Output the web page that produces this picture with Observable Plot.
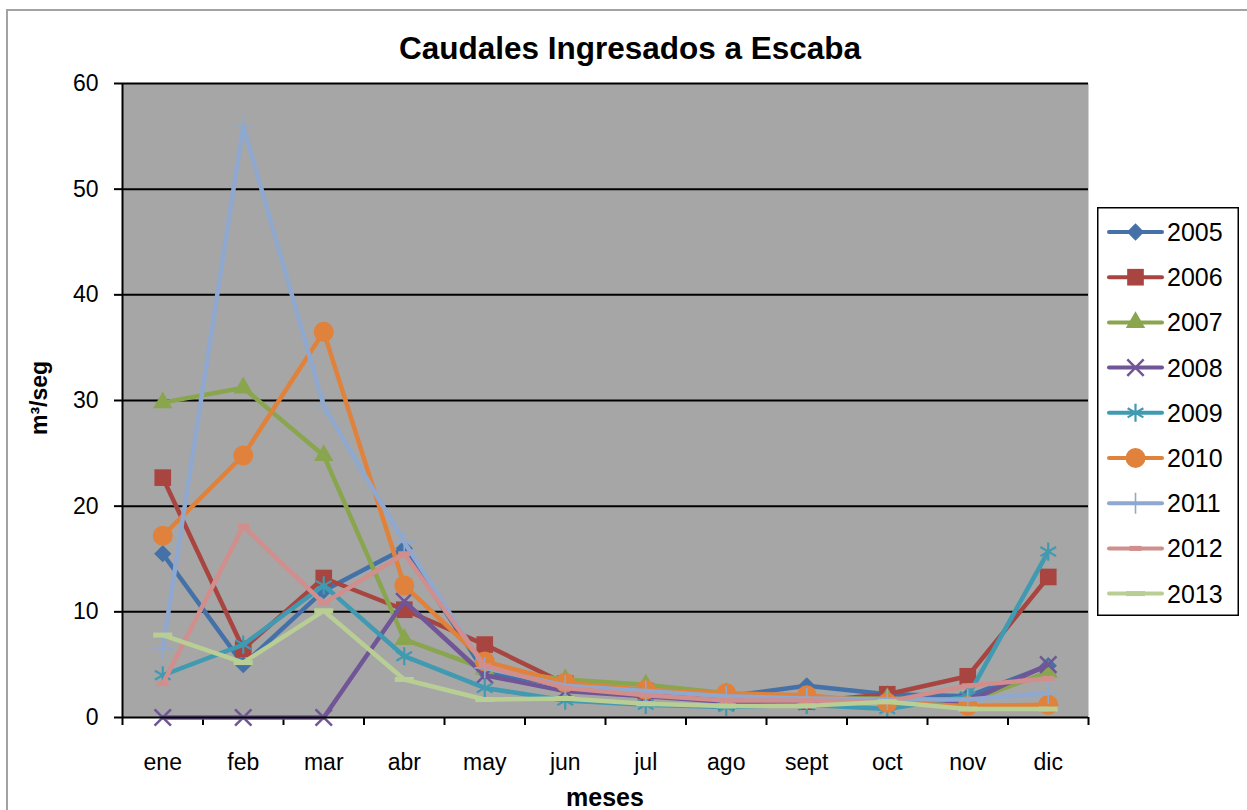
<!DOCTYPE html>
<html>
<head>
<meta charset="utf-8">
<script src="https://cdn.jsdelivr.net/npm/d3@7"></script>
<script src="https://cdn.jsdelivr.net/npm/@observablehq/plot@0.6"></script>
<style>
  html, body { margin: 0; padding: 0; background: #fff; overflow: hidden; }
  #chart { position: relative; width: 1247px; height: 810px; font-family: "Liberation Sans", Arial, sans-serif; }
  #frame { position: absolute; left: 6px; top: 9px; width: 1260px; height: 820px; border: 2px solid #a3a3a3; box-sizing: border-box; }
  #plot { position: absolute; left: 0; top: 0; }
  #title { position: absolute; left: 0; width: 1260px; top: 30px; text-align: center; font-weight: bold; font-size: 31.5px; color: #000; }
  #ylabel { position: absolute; left: 39px; top: 398px; transform: translate(-50%, -50%) rotate(-90deg); font-weight: bold; font-size: 23px; white-space: nowrap; }
  #xlabel { position: absolute; left: 605px; top: 797px; transform: translate(-50%, -50%); font-weight: bold; font-size: 25px; white-space: nowrap; }
  #legend { position: absolute; left: 1097px; top: 207px; }
</style>
</head>
<body>
<div id="chart">
  <div id="frame"></div>
  <div id="plot"></div>
  <div id="title">Caudales Ingresados a Escaba</div>
  <div id="ylabel">m³/seg</div>
  <div id="xlabel">meses</div>
  <div id="legend"></div>
</div>
<script>
const months = ["ene","feb","mar","abr","may","jun","jul","ago","sept","oct","nov","dic"];
const years = ["2005","2006","2007","2008","2009","2010","2011","2012","2013"];
const yTicks = [0, 10, 20, 30, 40, 50, 60];

const q2005 = [15.5, 5.0, 12.0, 16.0, 4.3, 3.0, 2.3, 2.0, 3.0, 2.2, 2.0, 4.9];
const q2006 = [22.7, 6.5, 13.2, 10.2, 6.9, 3.2, 2.5, 1.8, 1.5, 2.2, 3.9, 13.3];
const q2007 = [29.8, 31.2, 24.8, 7.4, 4.6, 3.6, 3.1, 2.3, 1.8, 1.8, 1.5, 4.3];
const q2008 = [0, 0, 0, 11.0, 4.0, 2.5, 2.0, 1.5, 1.5, 1.5, 1.5, 5.0];
const q2009 = [4.0, 6.9, 12.5, 5.8, 2.8, 1.6, 1.2, 1.0, 1.2, 0.8, 2.0, 15.7];
const q2010 = [17.2, 24.8, 36.5, 12.5, 5.3, 3.3, 2.6, 2.3, 2.1, 1.4, 1.1, 1.2];
const q2011 = [6.5, 56.0, 29.5, 16.6, 4.7, 3.0, 2.5, 2.0, 1.8, 1.7, 1.7, 2.3];
const q2012 = [3.2, 18.1, 10.8, 15.5, 4.9, 2.8, 2.1, 1.6, 1.6, 1.5, 3.0, 3.7];
const q2013 = [7.8, 5.2, 10.1, 3.6, 1.7, 1.8, 1.3, 1.1, 1.1, 1.5, 0.8, 0.8];

const seriesValues = [q2005, q2006, q2007, q2008, q2009, q2010, q2011, q2012, q2013];
const colors = ["#4472a8", "#a94541", "#89a64f", "#705597", "#3f9ab2", "#e0823b", "#8fa8cf", "#d08e8d", "#b8ce95"];

// custom dash symbols (Excel markers 8 & 9)
const dash = { draw(ctx, size) { const r = Math.sqrt(size / Math.PI); ctx.moveTo(-r, 0); ctx.lineTo(r, 0); } };

const markers = [
  { symbol: "diamond2", r: 7.8, filled: true },
  { symbol: "square", r: 9.4, filled: true },
  { symbol: "triangle", r: 7.2, filled: true },
  { symbol: "times", r: 7.5, filled: false, sw: 2.5 },
  { symbol: "asterisk", r: 8.6, filled: false, sw: 2.2 },
  { symbol: "circle", r: 10, filled: true },
  { symbol: "plus", r: 6.8, filled: false, sw: 1.6 },
  { symbol: dash, r: 6, filled: false, sw: 5 },
  { symbol: dash, r: 9.5, filled: false, sw: 5 }
];

const data = [];
years.forEach((y, s) => seriesValues[s].forEach((v, i) => data.push({ year: y, s, i, v })));

const marks = [
  Plot.frame({ fill: "#a6a6a6", stroke: null }),
  Plot.ruleY(yTicks.filter(d => d > 0), { stroke: "#000", strokeWidth: 2 }),
  Plot.axisY({ ticks: yTicks, tickSize: 8, tickPadding: 16, label: null, stroke: "#000", strokeWidth: 2 }),
  Plot.axisX({ ticks: d3.range(-0.5, 12, 1), tickFormat: () => "", tickSize: 8, label: null, strokeWidth: 2 }),
  Plot.axisX({ ticks: d3.range(0, 12), tickFormat: i => months[i], tickSize: 0, tickPadding: 36, label: null })
];

years.forEach((y, s) => {
  const rows = data.filter(d => d.s === s);
  const m = markers[s];
  marks.push(Plot.line(rows, { x: "i", y: "v", stroke: colors[s], strokeWidth: 4.5, strokeLinejoin: "round", strokeLinecap: "round" }));
  marks.push(Plot.dot(rows, {
    x: "i", y: "v", symbol: m.symbol, r: m.r,
    fill: m.filled ? colors[s] : "none",
    stroke: m.filled ? "none" : colors[s],
    strokeWidth: m.sw || 1
  }));
});

marks.push(Plot.ruleX([-0.5], { stroke: "#000", strokeWidth: 2 }));
marks.push(Plot.ruleY([0], { stroke: "#000", strokeWidth: 2 }));

const chart = Plot.plot({
  width: 1247,
  height: 810,
  marginLeft: 122,
  marginRight: 159,
  marginTop: 83,
  marginBottom: 93,
  style: { fontSize: "23px", fontFamily: "'Liberation Sans', Arial, sans-serif", color: "#000", background: "transparent", overflow: "visible" },
  x: { type: "linear", domain: [-0.5, 11.5] },
  y: { domain: [0, 60] },
  marks
});
document.getElementById("plot").appendChild(chart);

// Legend
const lg = d3.select("#legend").append("svg").attr("width", 142).attr("height", 409)
  .style("font-family", "'Liberation Sans', Arial, sans-serif");
lg.append("rect").attr("x", 0.75).attr("y", 0.75).attr("width", 140.5).attr("height", 407.5)
  .attr("fill", "#fff").attr("stroke", "#000").attr("stroke-width", 1.5);
const d3syms = {
  "diamond2": d3.symbolDiamond2, "square": d3.symbolSquare, "triangle": d3.symbolTriangle,
  "times": d3.symbolTimes, "asterisk": d3.symbolAsterisk, "circle": d3.symbolCircle, "plus": d3.symbolPlus
};
years.forEach((y, s) => {
  const cy = 25 + s * 45.2;
  const g = lg.append("g").attr("transform", `translate(0,${cy})`);
  g.append("line").attr("x1", 12).attr("x2", 65).attr("y1", 0).attr("y2", 0)
    .attr("stroke", colors[s]).attr("stroke-width", 4).attr("stroke-linecap", "round");
  const m = markers[s];
  const type = typeof m.symbol === "string" ? d3syms[m.symbol] : m.symbol;
  g.append("path").attr("transform", "translate(38.5,0)")
    .attr("d", d3.symbol(type, Math.PI * m.r * m.r)())
    .attr("fill", m.filled ? colors[s] : "none")
    .attr("stroke", m.filled ? "none" : colors[s])
    .attr("stroke-width", m.sw || 1);
  g.append("text").attr("x", 70).attr("y", 0).attr("dy", "0.36em")
    .attr("font-size", 25).attr("fill", "#000").text(y);
});
</script>
</body>
</html>
